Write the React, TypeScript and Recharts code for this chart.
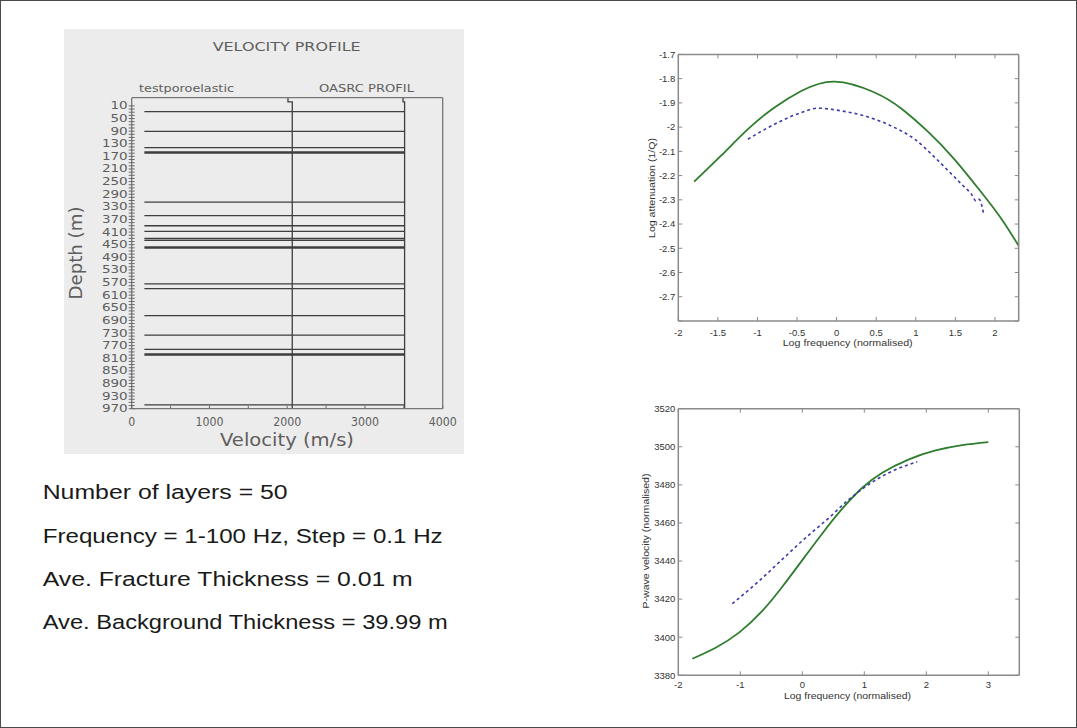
import { LineChart, Line, XAxis, YAxis } from "recharts";

// velocity profile (left panel)
const layerDepths = [28, 91, 142, 156, 160, 315, 358, 390, 408, 430, 436, 457, 461, 574, 589, 675, 737, 782, 796, 800, 958];
const fractureVelocity = 163;
const oasrcVelocity = [3490, 3490, 3510];
const oasrcDepth = [-16, -3, -3];
const oasrcBottom = 970;
const poroVelocity = [2010, 2010, 2065, 2065];
const poroDepth = [-16, -3, -3, 970];
const depthTicks = [10, 50, 90, 130, 170, 210, 250, 290, 330, 370, 410, 450, 490, 530, 570, 610, 650, 690, 730, 770, 810, 850, 890, 930, 970];
const velocityTicks = [0, 500, 1000, 1500, 2000, 2500, 3000, 3500, 4000];

// log attenuation vs log frequency (top right)
const attModelFreq = [-1.8, -1.46, -1.12, -0.785, -0.447, -0.025, 0.48, 0.82, 1.157, 1.494, 1.83, 2.085, 2.3];
const attModel = [-2.225, -2.118, -2.008, -1.919, -1.851, -1.812, -1.857, -1.924, -2.02, -2.135, -2.27, -2.38, -2.49];
const attDataFreq = [-1.12, -0.785, -0.447, -0.235, 0.06, 0.397, 0.734, 0.987, 1.24, 1.41, 1.62, 1.7, 1.76, 1.8, 1.855];
const attData = [-2.05, -1.988, -1.94, -1.922, -1.933, -1.958, -2.002, -2.05, -2.125, -2.18, -2.249, -2.275, -2.305, -2.298, -2.355];
const attFreqTicks = [-2, -1.5, -1, -0.5, 0, 0.5, 1, 1.5, 2];
const attTicks = [-2.8, -2.7, -2.6, -2.5, -2.4, -2.3, -2.2, -2.1, -2, -1.9, -1.8, -1.7];

// p-wave velocity vs log frequency (bottom right)
const velModelFreq = [-1.774, -1.398, -1.021, -0.645, -0.323, 0, 0.323, 0.645, 0.968, 1.29, 1.72, 2.15, 2.58, 3.0];
const velModel = [3388.7, 3394.5, 3402.4, 3413.8, 3426.5, 3440.5, 3454.5, 3467.5, 3478.5, 3486.4, 3493.4, 3498.1, 3500.9, 3502.5];
const velDataFreq = [-1.129, -0.698, -0.323, 0.053, 0.43, 0.753, 1.076, 1.398, 1.855];
const velData = [3417.6, 3429.5, 3440.9, 3452.2, 3462.7, 3472.4, 3480.3, 3486.4, 3492.1];
const velFreqTicks = [-2, -1, 0, 1, 2, 3];
const velTicks = [3380, 3400, 3420, 3440, 3460, 3480, 3500, 3520];

const infoLines = [
    "Number of layers = 50",
    "Frequency = 1-100 Hz, Step = 0.1 Hz",
    "Ave. Fracture Thickness = 0.01 m",
    "Ave. Background Thickness = 39.99 m"
];
const infoWidths = [245, 400, 370, 405];

const pairs = (xs: number[], ys: number[]) => xs.map((x, i) => ({x, y: ys[i]}));

const oasrcProfile = [
    ...pairs(oasrcVelocity, oasrcDepth),
    ...layerDepths.flatMap((d) => [
        {x: oasrcVelocity[2], y: d},
        {x: fractureVelocity, y: d},
        {x: oasrcVelocity[2], y: d}
    ]),
    {x: oasrcVelocity[2], y: oasrcBottom}
];
const poroProfile = pairs(poroVelocity, poroDepth);

const profFont = "'DejaVu Sans', sans-serif";
const profInk = "#5e5e5e";
const smallFont = "'Liberation Sans', Arial, sans-serif";
const smallInk = "#333";
const frame = "#8a8a8a";

const fmtNum = (v: number) => String(Number(v.toFixed(2)));

// inward tick + label helpers (tickSize/tickMargin are 0, so x/y sit on the axis line)
const bottomTick = (len: number, dy: number, label: boolean, style: any, showIf?: (v: number) => boolean, charW?: number) =>
    (p: any) => {
        const v = p.payload.value;
        const s = fmtNum(v);
        const show = label && (!showIf || showIf(v));
        return (
            <g>
                <line x1={p.x} x2={p.x} y1={p.y} y2={p.y - len} stroke={style.stroke}/>
                {show && (
                    <text x={p.x} y={p.y + dy} textAnchor="middle" fontSize={style.size} fontFamily={style.font} fill={style.fill}
                          {...(charW ? {textLength: s.length * charW, lengthAdjust: "spacingAndGlyphs"} : {})}>
                        {s}
                    </text>
                )}
            </g>
        );
    };

const leftTick = (len: number, back: number, gap: number, label: boolean, style: any, showIf?: (v: number) => boolean, charW?: number) =>
    (p: any) => {
        const v = p.payload.value;
        const s = fmtNum(v);
        const show = label && (!showIf || showIf(v));
        return (
            <g>
                <line x1={p.x - back} x2={p.x + len} y1={p.y} y2={p.y} stroke={style.stroke}/>
                {show && (
                    <text x={p.x - gap} y={p.y} dy="0.35em" textAnchor="end" fontSize={style.size} fontFamily={style.font} fill={style.fill}
                          {...(charW ? {textLength: s.length * charW, lengthAdjust: "spacingAndGlyphs"} : {})}>
                        {s}
                    </text>
                )}
            </g>
        );
    };

const topTick = (len: number) => (p: any) => (
    <line x1={p.x} x2={p.x} y1={p.y} y2={p.y + len} stroke={frame}/>
);
const rightTick = (len: number) => (p: any) => (
    <line x1={p.x} x2={p.x - len} y1={p.y} y2={p.y} stroke={frame}/>
);

const smallStyle = {stroke: frame, size: 9.5, font: smallFont, fill: smallInk};
const profStyle = {stroke: "#6a6a6a", size: 10, font: profFont, fill: profInk};

const VelocityProfile = () => (
    <LineChart width={420} height={440} margin={{top: 75.7, right: 37.3, left: 30.7, bottom: 22.3}}>
        <XAxis xAxisId="b" dataKey="x" type="number" domain={[0, 4000]} ticks={velocityTicks} allowDataOverflow
               height={30} tickSize={0} tickMargin={0} stroke="#777" strokeWidth={1.3}
               tick={bottomTick(3, 17, true, {...profStyle, size: 12}, (v) => v % 1000 === 0, 7)}/>
        <XAxis xAxisId="t" orientation="top" dataKey="x" type="number" domain={[0, 4000]} ticks={velocityTicks} allowDataOverflow
               height={1} tickSize={0} tickMargin={0} stroke="#777" strokeWidth={1.3} tick={() => <g/>}/>
        <YAxis yAxisId="l" dataKey="y" type="number" domain={[-16, 970]} reversed ticks={[...depthTicks, ...depthTicks.slice(0, -1).flatMap((d) => [d + 10, d + 20, d + 30])]}
               allowDataOverflow width={40} tickSize={0} tickMargin={0} stroke="#777" strokeWidth={1.3} interval={0}
               tick={leftTick(3, 3, 4, true, profStyle, (v) => depthTicks.includes(v), 8.6)}/>
        <YAxis yAxisId="r" orientation="right" dataKey="y" type="number" domain={[-16, 970]} reversed allowDataOverflow ticks={depthTicks}
               width={1} tickSize={0} tickMargin={0} stroke="#777" strokeWidth={1.3} tick={() => <g/>}/>
        <Line xAxisId="b" yAxisId="l" data={oasrcProfile} dataKey="y" type="linear" stroke="#3e3e3e" strokeWidth={1.3}
              dot={false} activeDot={false} isAnimationActive={false}/>
        <Line xAxisId="b" yAxisId="l" data={poroProfile} dataKey="y" type="linear" stroke="#3e3e3e" strokeWidth={1.3}
              dot={false} activeDot={false} isAnimationActive={false}/>
    </LineChart>
);

const AttenuationChart = () => (
    <LineChart width={430} height={320} margin={{top: 12.4, right: 11.3, left: 27.3, bottom: 10}}>
        <XAxis xAxisId="b" dataKey="x" type="number" domain={[-2, 2.3]} ticks={attFreqTicks} allowDataOverflow interval={0}
               height={30} tickSize={0} tickMargin={0} stroke={frame} strokeWidth={1.5}
               tick={bottomTick(4, 14.5, true, smallStyle)}/>
        <XAxis xAxisId="t" orientation="top" dataKey="x" type="number" domain={[-2, 2.3]} ticks={attFreqTicks} allowDataOverflow interval={0}
               height={1} tickSize={0} tickMargin={0} stroke={frame} strokeWidth={1.5} tick={topTick(4)}/>
        <YAxis yAxisId="l" dataKey="y" type="number" domain={[-2.8, -1.7]} ticks={attTicks} allowDataOverflow interval={0}
               width={50} tickSize={0} tickMargin={0} stroke={frame} strokeWidth={1.5}
               tick={leftTick(4, 0, 3, true, smallStyle, (v) => v > -2.75)}/>
        <YAxis yAxisId="r" orientation="right" dataKey="y" type="number" domain={[-2.8, -1.7]} ticks={attTicks} allowDataOverflow interval={0}
               width={1} tickSize={0} tickMargin={0} stroke={frame} strokeWidth={1.5} tick={rightTick(4)}/>
        <Line xAxisId="b" yAxisId="l" data={pairs(attModelFreq, attModel)} dataKey="y" type="natural" stroke="#2f7d2f" strokeWidth={1.8}
              dot={false} activeDot={false} isAnimationActive={false}/>
        <Line xAxisId="b" yAxisId="l" data={pairs(attDataFreq, attData)} dataKey="y" type="monotone" stroke="#3b3ba6" strokeWidth={1.6}
              strokeDasharray="3 3" dot={false} activeDot={false} isAnimationActive={false}/>
    </LineChart>
);

const VelocityChart = () => (
    <LineChart width={430} height={320} margin={{top: 11.7, right: 10.7, left: 27.3, bottom: 10.7}}>
        <XAxis xAxisId="b" dataKey="x" type="number" domain={[-2, 3.5]} ticks={velFreqTicks} allowDataOverflow interval={0}
               height={30} tickSize={0} tickMargin={0} stroke={frame} strokeWidth={1.5}
               tick={bottomTick(4, 13, true, smallStyle)}/>
        <XAxis xAxisId="t" orientation="top" dataKey="x" type="number" domain={[-2, 3.5]} ticks={velFreqTicks} allowDataOverflow interval={0}
               height={1} tickSize={0} tickMargin={0} stroke={frame} strokeWidth={1.5} tick={topTick(4)}/>
        <YAxis yAxisId="l" dataKey="y" type="number" domain={[3380, 3520]} ticks={velTicks} allowDataOverflow interval={0}
               width={50} tickSize={0} tickMargin={0} stroke={frame} strokeWidth={1.5}
               tick={leftTick(4, 0, 3, true, smallStyle)}/>
        <YAxis yAxisId="r" orientation="right" dataKey="y" type="number" domain={[3380, 3520]} ticks={velTicks} allowDataOverflow interval={0}
               width={1} tickSize={0} tickMargin={0} stroke={frame} strokeWidth={1.5} tick={rightTick(4)}/>
        <Line xAxisId="b" yAxisId="l" data={pairs(velModelFreq, velModel)} dataKey="y" type="natural" stroke="#2f7d2f" strokeWidth={1.8}
              dot={false} activeDot={false} isAnimationActive={false}/>
        <Line xAxisId="b" yAxisId="l" data={pairs(velDataFreq, velData)} dataKey="y" type="monotone" stroke="#3b3ba6" strokeWidth={1.6}
              strokeDasharray="3 3" dot={false} activeDot={false} isAnimationActive={false}/>
    </LineChart>
);

const fit = (w: number, adjust: "spacing" | "spacingAndGlyphs" = "spacingAndGlyphs") => ({textLength: w, lengthAdjust: adjust});

const App = () => {
    return (
        <div style={{position: "absolute", left: 0, top: 0, width: 1077, height: 728, background: "#fff",
            border: "1px solid #4a4a4a", boxSizing: "border-box", overflow: "hidden"}}>
            <div style={{position: "absolute", left: 63, top: 28, width: 400, height: 425, background: "#ececec"}}/>
            <div style={{position: "absolute", left: 60, top: 20}}>
                <VelocityProfile/>
            </div>
            <div style={{position: "absolute", left: 600, top: 40}}>
                <AttenuationChart/>
            </div>
            <div style={{position: "absolute", left: 600, top: 395}}>
                <VelocityChart/>
            </div>
            <svg width={1077} height={728} style={{position: "absolute", left: 0, top: 0, pointerEvents: "none"}}>
                <text x={211.7} y={50} fontSize={13} fontFamily={profFont} fill={profInk} {...fit(148)}>VELOCITY PROFILE</text>
                <text x={138} y={90.5} fontSize={10} fontFamily={profFont} fill={profInk} {...fit(95)}>testporoelastic</text>
                <text x={318} y={90.5} fontSize={10} fontFamily={profFont} fill={profInk} {...fit(95)}>OASRC  PROFIL</text>
                <text transform="translate(81,252) rotate(-90)" textAnchor="middle" fontSize={17} fontFamily={profFont}
                      fill={profInk} {...fit(93)}>Depth (m)</text>
                <text x={219} y={445} fontSize={18} fontFamily={profFont} fill={profInk} {...fit(134)}>Velocity (m/s)</text>

                {infoLines.map((s, i) => (
                    <text key={s} x={41.7} y={498.3 + i * 43.3} fontSize={20.5} fontFamily="'Liberation Sans', Arial, sans-serif"
                          fill="#1a1a1a" {...fit(infoWidths[i])}>{s}</text>
                ))}

                <text transform="translate(654,187) rotate(-90)" textAnchor="middle" fontSize={9} fontFamily={smallFont}
                      fill={smallInk} {...fit(100)}>Log attenuation (1/Q)</text>
                <text x={846.7} y={345} textAnchor="middle" fontSize={9.5} fontFamily={smallFont} fill={smallInk}
                      {...fit(130)}>Log frequency (normalised)</text>
                <text transform="translate(648,540) rotate(-90)" textAnchor="middle" fontSize={9} fontFamily={smallFont}
                      fill={smallInk} {...fit(135)}>P-wave velocity (normalised)</text>
                <text x={846.5} y={697.7} textAnchor="middle" fontSize={9.5} fontFamily={smallFont} fill={smallInk}
                      {...fit(127)}>Log frequency (normalised)</text>
            </svg>
        </div>
    );
};

export default App;
